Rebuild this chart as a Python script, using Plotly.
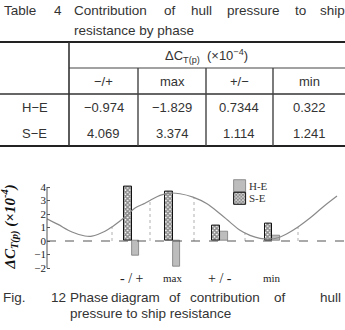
import numpy as np
import plotly.graph_objects as go

W, H = 345, 330

# ---------------- data ----------------
table_rows = ["H\u2212E", "S\u2212E"]
table_cols = ["\u2212/+", "max", "+/\u2212", "min"]
table_he = [-0.974, -1.829, 0.7344, 0.322]
table_se = [4.069, 3.374, 1.114, 1.241]

series_names = ["H-E", "S-E"]
phase_labels = ["- / +", "max", "+ / -", "min"]
phase_pos = [84.7, 125.7, 173.0, 225.3]          # phase position of each group
chart_se = [4.05, 3.64, 1.12, 1.30]              # bar heights
chart_he = [-1.05, -1.87, 0.67, 0.37]

curve_x = [0, 11, 25, 38, 45, 58, 66, 78, 88, 98, 103, 113, 123, 133, 146,
           160, 173, 183, 193, 203, 213, 223, 230, 240, 251, 263, 276, 290]
curve_y = [1.65, 1.23, 0.67, 0.37, 0.36, 0.72, 1.10, 1.78, 2.44, 2.80, 3.00, 3.38,
           3.55, 3.50, 3.25, 2.76, 2.02, 1.40, 0.79, 0.42, 0.20, 0.15, 0.22, 0.54,
           1.04, 1.70, 2.52, 3.33]
guide_x = [65, 103, 147, 198, 251]
y_ticks = [-2, -1, 0, 1, 2, 3, 4]

# ---------------- helpers ----------------
def px(x):
    return x / W

def py(y):
    return 1 - y / H

def fmt(v):
    return str(v).replace("-", "\u2212")

SANS = "Liberation Sans"
SERIF = "Liberation Serif"
TXT = "#333333"

fig = go.Figure()

# guide lines from zero to curve
gy_top = np.interp(guide_x, curve_x, curve_y)
gx, gy = [], []
for xv, tv in zip(guide_x, gy_top):
    gx += [xv, xv, None]
    gy += [0, float(tv), None]
fig.add_trace(go.Scatter(x=gx, y=gy, mode="lines", showlegend=False, hoverinfo="skip",
                         line=dict(color="#b0b0b0", width=1, dash="dot")))
fig.add_trace(go.Scatter(x=curve_x, y=curve_y, mode="lines", showlegend=False,
                         line=dict(color="#8a8a8a", width=1.2, shape="spline")))

BW = 7.6
fig.add_trace(go.Bar(x=phase_pos, y=chart_he, width=BW, offset=0, name="",
                     hovertext=series_names[0],
                     marker=dict(color="#bdbdbd", line=dict(color="#7a7a7a", width=0.8)),
                     legend="legend", showlegend=True))
fig.add_trace(go.Bar(x=phase_pos, y=chart_se, width=BW, offset=-BW, name="",
                     hovertext=series_names[1],
                     marker=dict(color="#ffffff", line=dict(color="#111111", width=1),
                                 pattern=dict(shape="x", size=3, solidity=0.75,
                                              fgcolor="#1a1a1a", bgcolor="#ffffff")),
                     legend="legend2", showlegend=True))

shapes = []
ann = []

# axis line and zero line
shapes.append(dict(type="line", xref="paper", yref="y", x0=px(47), x1=px(47), y0=-2, y1=4,
                   line=dict(color="#555555", width=1)))
shapes.append(dict(type="line", xref="x", yref="y", x0=0, x1=298, y0=0, y1=0,
                   line=dict(color="#555555", width=1.2, dash="dash")))

# phase labels
for lab, xv in zip(phase_labels, phase_pos):
    big = "/" in lab
    ann.append(dict(x=xv, xref="x", y=py(278), yref="paper", text=lab, showarrow=False,
                    xanchor="center", yanchor="middle",
                    font=dict(family=SERIF, size=14 if big else 11, color="#222222")))

# legend labels
for nm, yc in zip(series_names, [185.7, 198.3]):
    ann.append(dict(x=px(248), y=py(yc), xref="paper", yref="paper", text=nm,
                    showarrow=False, xanchor="left", yanchor="middle", borderpad=0,
                    font=dict(family=SERIF, size=11, color="#333333")))

# y title
ann.append(dict(x=px(10), y=py(227.5), xref="paper", yref="paper",
                text="<b><i>\u0394C<sub>T(p)</sub> (\u00d710<sup>-4</sup>)</i></b>",
                showarrow=False, textangle=-90, xanchor="center", yanchor="middle",
                font=dict(family=SERIF, size=15, color="#111111")))

# ---------------- table ----------------
def word_line(words, xs, yc, size):
    for w, xv in zip(words, xs):
        ann.append(dict(x=px(xv), y=py(yc), xref="paper", yref="paper", text=w,
                        showarrow=False, xanchor="left", yanchor="middle", borderpad=0,
                        font=dict(family=SANS, size=size, color=TXT)))

word_line(["Table", "4", "Contribution", "of", "hull", "pressure", "to", "ship"],
          [3.3, 53.3, 72.7, 162.7, 190, 225.7, 294, 319], 10.7, 13.5)
word_line(["resistance by phase"], [72.7], 30, 13.5)

word_line(["Fig.", "12", "Phase", "diagram", "of", "contribution", "of", "hull"],
          [1.7, 50, 69, 110, 167.7, 189, 273.3, 319], 297.3, 13.5)
word_line(["pressure to ship resistance"], [69], 313.3, 13.5)

col_edges = [0, 69, 138, 206, 273, 345]
col_c = [(a + b) / 2 for a, b in zip(col_edges[:-1], col_edges[1:])]

def cell(text, xc, yc, size=13):
    ann.append(dict(x=px(xc), y=py(yc), xref="paper", yref="paper", text=text,
                    showarrow=False, xanchor="center", yanchor="middle", borderpad=0,
                    font=dict(family=SANS, size=size, color=TXT)))

cell("\u0394C<sub>T(p)</sub>  (\u00d710<sup>\u22124</sup>)", 206, 55.5)
for c, xc in zip(table_cols, col_c[1:]):
    cell(c, xc, 81)
for r, vals, yc in zip(table_rows, [table_he, table_se], [107, 133]):
    cell(r, col_c[0], yc)
    for v, xc in zip(vals, col_c[1:]):
        cell(fmt(v), xc, yc)

def hline(y, x0, x1, w, c):
    shapes.append(dict(type="line", xref="paper", yref="paper", x0=px(x0), x1=px(x1),
                       y0=py(y), y1=py(y), line=dict(color=c, width=w)))

def vline(x, y0, y1, w, c):
    shapes.append(dict(type="line", xref="paper", yref="paper", x0=px(x), x1=px(x),
                       y0=py(y0), y1=py(y1), line=dict(color=c, width=w)))

hline(42, 0, 345, 2, "#222222")
hline(68, 69, 345, 1.2, "#444444")
hline(94, 0, 345, 1.4, "#333333")
hline(146, 0, 345, 2, "#222222")
vline(69, 42, 146, 1.6, "#333333")
for xe in [138, 206, 273]:
    vline(xe, 68, 146, 1.4, "#444444")

# ---------------- layout ----------------
y_lo, y_hi = -2.4, 4.4
leg_common = dict(xanchor="left", yanchor="middle", bgcolor="rgba(0,0,0,0)",
                  borderwidth=0, itemwidth=30,
                  font=dict(family=SERIF, size=10, color="#333333"))
fig.update_layout(
    width=W, height=H, margin=dict(l=0, r=0, t=0, b=0),
    paper_bgcolor="white", plot_bgcolor="white",
    barmode="overlay", bargap=0,
    shapes=shapes, annotations=ann,
    xaxis=dict(domain=[px(47), 1.0], range=[0, 298], showgrid=False, zeroline=False,
               showline=False, showticklabels=False, ticks=""),
    yaxis=dict(domain=[py(241 + 13.5 * (-y_lo)), py(241 - 13.5 * y_hi)],
               range=[y_lo, y_hi], tickvals=y_ticks, showgrid=False, zeroline=False,
               showline=False, ticks="inside", ticklen=3, tickcolor="#555555",
               tickfont=dict(family=SERIF, size=11, color="#222222")),
    legend=dict(x=px(219.6), y=py(185.7), **leg_common),
    legend2=dict(x=px(219.6), y=py(198.3), **leg_common),
)

fig.write_html("out.html")
